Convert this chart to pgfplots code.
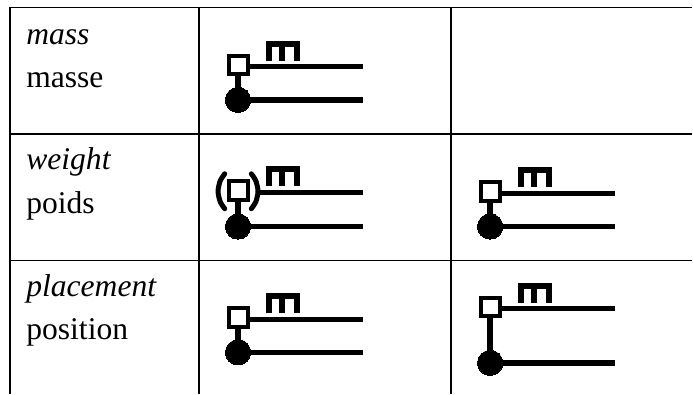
\documentclass[border=0pt]{standalone}
\usepackage{fontspec}
\setmainfont{Liberation Serif}
\usepackage{pgfplots}
\pgfplotsset{compat=1.18}
\tikzset{lbl/.style={anchor=base west, inner sep=0pt, font=\fontsize{15.8}{19}\selectfont}}
\begin{document}
\begin{tikzpicture}
\begin{axis}[
  scale only axis, width=346.5pt, height=197pt,
  xmin=0, xmax=693, ymin=0, ymax=394, y dir=reverse,
  enlargelimits=false, hide axis, clip=false,
  every axis plot/.append style={black, line cap=butt, line join=miter},
  ln/.style={mark=none},
]
% invisible frame to fix the bounding box
\addplot[draw=none, mark=none] coordinates {(0,0)(693,394)};
% table grid
\addplot[ln, line width=0.8pt] coordinates {(10,7.5)(693,7.5)};
\addplot[ln, line width=0.8pt] coordinates {(10,134)(693,134)};
\addplot[ln, line width=0.8pt] coordinates {(10,261)(693,261)};
\addplot[ln, line width=0.8pt] coordinates {(10,7.5)(10,394)};
\addplot[ln, line width=0.8pt] coordinates {(199,7.5)(199,394)};
\addplot[ln, line width=0.8pt] coordinates {(451.5,7.5)(451.5,394)};
% connectors
\addplot[ln, line width=3pt] coordinates {(238.3,75)(238.3,100)};
\addplot[ln, line width=3pt] coordinates {(238.3,200)(238.3,226.7)};
\addplot[ln, line width=3pt] coordinates {(238.3,327)(238.3,352.7)};
\addplot[ln, line width=3pt] coordinates {(490.7,201)(490.7,226.7)};
\addplot[ln, line width=3pt] coordinates {(490.7,317)(490.7,363.3)};
% top lines
\addplot[ln, line width=2.5pt] coordinates {(250,66.7)(363.3,66.7)};
\addplot[ln, line width=2.5pt] coordinates {(256,192.4)(363.3,192.4)};
\addplot[ln, line width=2.5pt] coordinates {(250,319.7)(363.3,319.7)};
\addplot[ln, line width=2.5pt] coordinates {(502,193.4)(615.7,193.4)};
\addplot[ln, line width=2.5pt] coordinates {(502,309)(615.7,309)};
% bottom lines
\addplot[ln, line width=2.75pt] coordinates {(238.3,100)(363.3,100)};
\addplot[ln, line width=2.75pt] coordinates {(238.3,226.7)(363.3,226.7)};
\addplot[ln, line width=2.75pt] coordinates {(238.3,352.7)(363.3,352.7)};
\addplot[ln, line width=2.75pt] coordinates {(490.7,226.7)(615.7,226.7)};
\addplot[ln, line width=2.75pt] coordinates {(490.7,363.3)(615.7,363.3)};
% m signs
\addplot[ln, line width=3pt] coordinates {(269,60.7)(269,43.7)(297.3,43.7)(297.3,60.7)};
\addplot[ln, line width=3pt] coordinates {(282.5,43.7)(282.5,60.7)};
\addplot[ln, line width=3pt] coordinates {(269,186.4)(269,169.4)(297.3,169.4)(297.3,186.4)};
\addplot[ln, line width=3pt] coordinates {(282.5,169.4)(282.5,186.4)};
\addplot[ln, line width=3pt] coordinates {(269,313.7)(269,296.7)(297.3,296.7)(297.3,313.7)};
\addplot[ln, line width=3pt] coordinates {(282.5,296.7)(282.5,313.7)};
\addplot[ln, line width=3pt] coordinates {(521.4,187.4)(521.4,170.4)(549.7,170.4)(549.7,187.4)};
\addplot[ln, line width=3pt] coordinates {(534.9,170.4)(534.9,187.4)};
\addplot[ln, line width=3pt] coordinates {(521.4,303)(521.4,286)(549.7,286)(549.7,303)};
\addplot[ln, line width=3pt] coordinates {(534.9,286)(534.9,303)};
% parentheses
\addplot[ln, line width=2.5pt, smooth, line cap=round] coordinates {(225,174)(220.5,181)(218.3,191.5)(220.5,202)(225,209)};
\addplot[ln, line width=2.5pt, smooth, line cap=round] coordinates {(251.6,174)(256.1,181)(258.3,191.5)(256.1,202)(251.6,209)};
% squares
\addplot[only marks, mark=square*, mark size=4.6pt, mark options={solid, fill=white, draw=black, line width=2pt}]
  coordinates {(238.8,65)(238.8,190.7)(238.8,318)(491.2,191.7)(491.2,307.3)};
% circles
\addplot[only marks, mark=*, mark size=6.35pt, mark options={solid, fill=black, draw=black, line width=0pt}]
  coordinates {(238.3,100)(238.3,226.7)(238.3,352.7)(490.7,226.7)(490.7,363.3)};
% labels
\node[lbl] at (axis cs:26,44.3) {\itshape mass};
\node[lbl] at (axis cs:26,87.7) {masse};
\node[lbl] at (axis cs:26,170) {\itshape weight};
\node[lbl] at (axis cs:26,213.7) {poids};
\node[lbl] at (axis cs:26,296.7) {\itshape placement};
\node[lbl] at (axis cs:26,340) {position};
\end{axis}
\end{tikzpicture}
\end{document}
